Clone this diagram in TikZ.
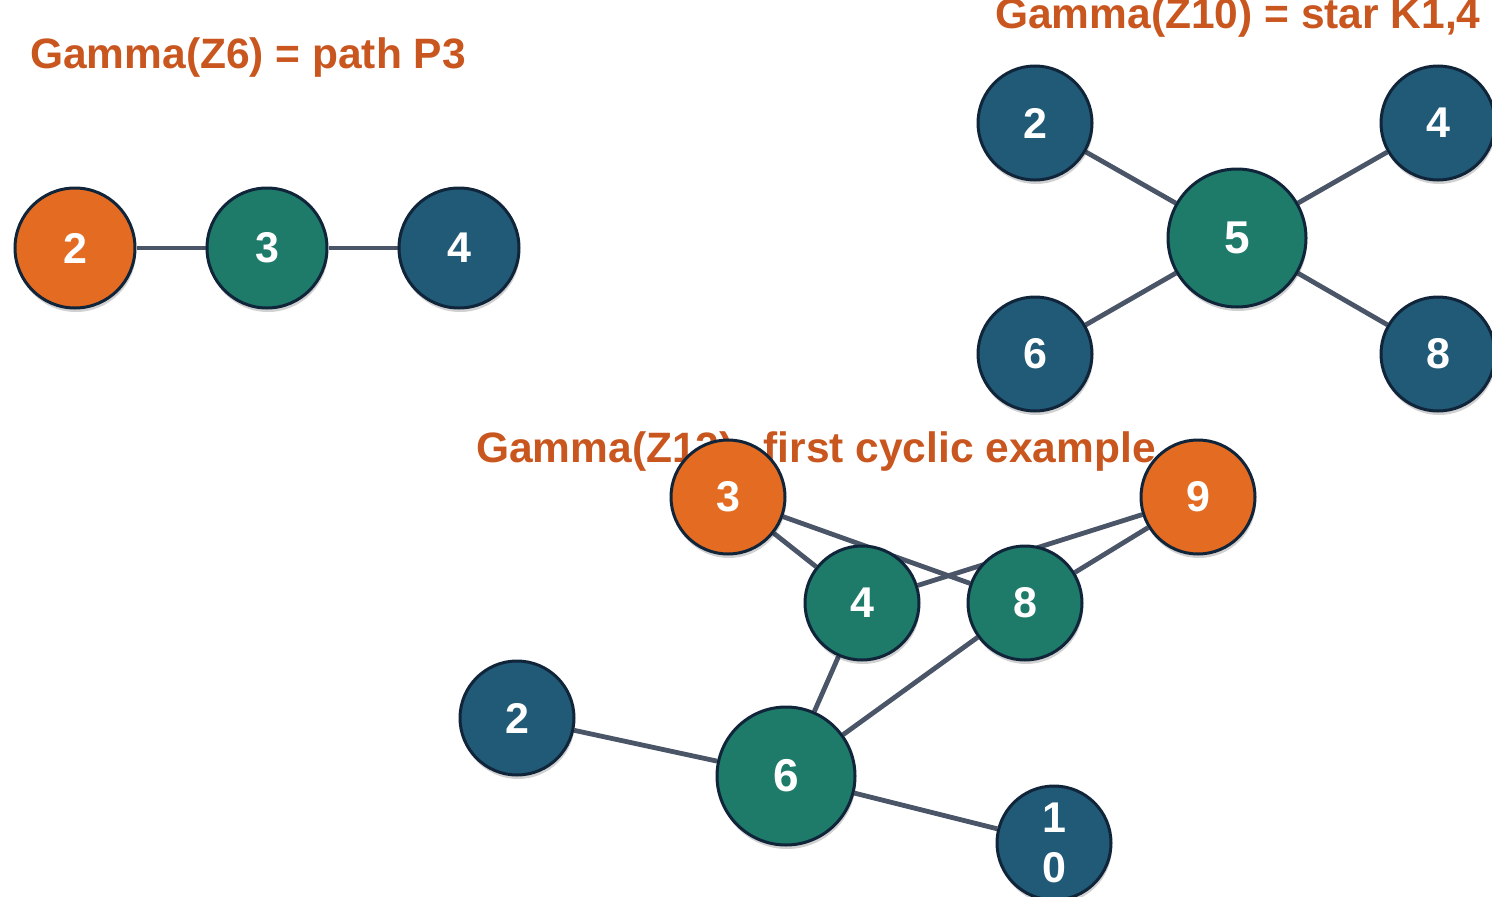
\documentclass[tikz,border=0pt]{standalone}
\usepackage{fontspec}
\setmainfont{Liberation Sans}
\usetikzlibrary{shadows}
\definecolor{cOrange}{HTML}{E36C22}
\definecolor{cGreen}{HTML}{1E7B69}
\definecolor{cBlue}{HTML}{215A76}
\definecolor{cBorder}{HTML}{10243A}
\definecolor{cEdge}{HTML}{4A5568}
\definecolor{cTitle}{HTML}{C8561E}
\pgfdeclarelayer{background}
\pgfsetlayers{background,main}
\tikzset{
  vtx/.style={circle, draw=cBorder, line width=3pt, inner sep=0pt, text=white,
    drop shadow={shadow xshift=1pt, shadow yshift=-4pt, opacity=0.18, fill=black}},
  small/.style={vtx, minimum size=114pt, font=\fontsize{43}{50}\selectfont\bfseries},
  path/.style={vtx, minimum size=120pt, font=\fontsize{43}{50}\selectfont\bfseries},
  big/.style={vtx, minimum size=138pt, font=\fontsize{46}{50}\selectfont\bfseries},
  orng/.style={fill=cOrange},
  grn/.style={fill=cGreen},
  blu/.style={fill=cBlue},
  edge/.style={draw=cEdge, line width=4.8pt},
  title/.style={anchor=base west, inner sep=0pt, text=cTitle, font=\fontsize{42.5}{50}\selectfont\bfseries}
}
\begin{document}
\begin{tikzpicture}[x=1pt,y=-1pt]
\useasboundingbox (0,0) rectangle (1492,897);
% titles
\node[title] (t1) at (30,68) {Gamma(Z6) = path P3};
\node[title] (t2) at (995,28) {Gamma(Z10) = star K1,4};
\node[title] (t3) at (476,462) {Gamma(Z12): first cyclic example};
% path P3
\node[path,orng] (a2) at (75,248) {2};
\node[path,grn] (a3) at (267,248) {3};
\node[path,blu] (a4) at (459,248) {4};
% star K1,4
\node[big,grn] (b5) at (1237,238) {5};
\node[small,blu] (b2) at (1035,123) {2};
\node[small,blu] (b4) at (1438,123) {4};
\node[small,blu] (b6) at (1035,354) {6};
\node[small,blu] (b8) at (1438,354) {8};
% Z12
\node[small,orng] (c3) at (728,497) {3};
\node[small,orng] (c9) at (1198,497) {9};
\node[small,grn] (c4) at (862,603) {4};
\node[small,grn] (c8) at (1025,603) {8};
\node[small,blu] (c2) at (517,718) {2};
\node[big,grn] (c6) at (786,776) {6};
\node[small,blu,align=center] (c10) at (1054,843) {1\\0};
\begin{pgfonlayer}{background}
\draw[edge] (a2) -- (a3);
\draw[edge] (a3) -- (a4);
\draw[edge] (b5) -- (b2);
\draw[edge] (b5) -- (b4);
\draw[edge] (b5) -- (b6);
\draw[edge] (b5) -- (b8);
\draw[edge] (c3) -- (c4);
\draw[edge] (c3) -- (c8);
\draw[edge] (c9) -- (c4);
\draw[edge] (c9) -- (c8);
\draw[edge] (c4) -- (c6);
\draw[edge] (c8) -- (c6);
\draw[edge] (c2) -- (c6);
\draw[edge] (c6) -- (c10);
\end{pgfonlayer}
\end{tikzpicture}
\end{document}
